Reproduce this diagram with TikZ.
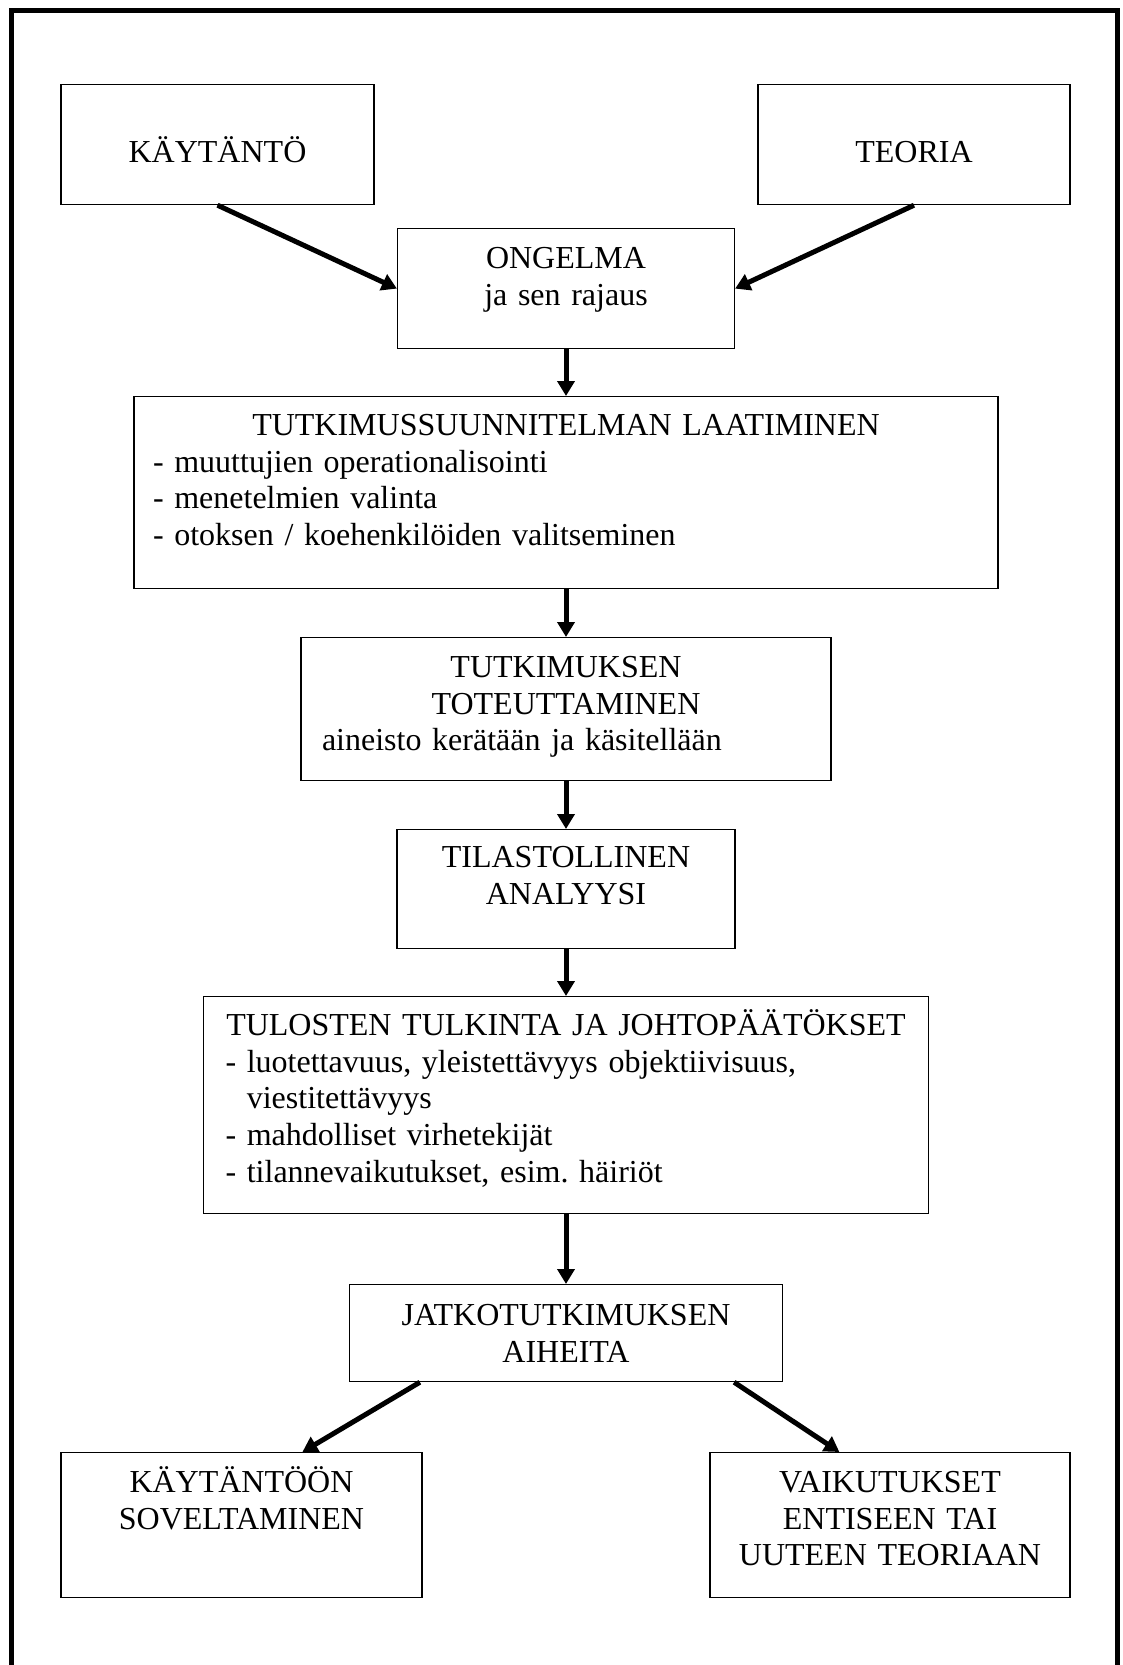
\documentclass[tikz,border=0pt]{standalone}
\usepackage{fontspec}
\setmainfont{Liberation Serif}
\usetikzlibrary{arrows.meta}
\frenchspacing

\tikzset{
  box/.style={draw, line width=0.6pt, anchor=north, inner xsep=10pt, inner ysep=0pt,
    font=\fontsize{16}{18.3}\selectfont},
  flow/.style={line width=2.5pt, -{Triangle[length=7.5pt,width=8.5pt]}},
}

\begin{document}
\begin{tikzpicture}[x=0.5pt, y=-0.5pt]
      \useasboundingbox (0,0) rectangle (1123,1665);
      \draw[line width=2.5pt] (11,1665) -- (11,10) -- (1117,10) -- (1117,1665);
      \draw
        (217.5,84) node[box, align=center, text width=136.5pt, text height=39pt, text depth=21pt] (kaytanto){KÄYTÄNTÖ}
        (914,84) node[box, align=center, text width=136pt, text height=39pt, text depth=21pt] (teoria){TEORIA}
        (566,228) node[box, align=center, text width=148.5pt, text height=20pt, text depth=40pt] (ongelma){ONGELMA\\ja sen rajaus}
        (566,396) node[box, align=left, inner xsep=9.5pt, text width=413pt, text height=19.5pt, text depth=76.5pt] (suunnitelma){%
          \makebox[\hsize]{TUTKIMUSSUUNNITELMAN LAATIMINEN}\\
          - muuttujien operationalisointi\\
          - menetelmien valinta\\
          - otoksen / koehenkilöiden valitseminen}
        (566,637) node[box, align=left, inner xsep=10.5pt, text width=244pt, text height=20pt, text depth=51.5pt] (toteutus){%
          \makebox[\hsize]{TUTKIMUKSEN}\\
          \makebox[\hsize]{TOTEUTTAMINEN}\\
          aineisto kerätään ja käsitellään}
        (566,829) node[box, align=center, text width=149pt, text height=19pt, text depth=40.5pt] (analyysi){TILASTOLLINEN\\ANALYYSI}
        (566,996) node[box, align=left, inner xsep=11pt, text width=340.5pt, text height=19.5pt, text depth=89pt] (tulkinta){%
          \makebox[\hsize]{TULOSTEN TULKINTA JA JOHTOPÄÄTÖKSET}\\
          - luotettavuus, yleistettävyys objektiivisuus,\\
          \phantom{- }viestitettävyys\\
          - mahdolliset virhetekijät\\
          - tilannevaikutukset, esim. häiriöt}
        (566,1284) node[box, align=center, text width=196.5pt, text height=20.5pt, text depth=28pt] (jatko){JATKOTUTKIMUKSEN\\AIHEITA}
        (241.5,1452) node[box, align=center, text width=160.5pt, text height=20pt, text depth=52.5pt] (soveltaminen){KÄYTÄNTÖÖN\\SOVELTAMINEN}
        (890,1452) node[box, align=center, text width=160pt, text height=20pt, text depth=52.5pt] (vaikutukset){VAIKUTUKSET\\ENTISEEN TAI\\UUTEEN TEORIAAN};
      \begin{scope}[flow]
        \draw (kaytanto.south) to (ongelma.west);
        \draw (teoria.south) to (ongelma.east);
        \draw (ongelma) to (suunnitelma);
        \draw (suunnitelma) to (toteutus);
        \draw (toteutus) to (analyysi);
        \draw (analyysi) to (tulkinta);
        \draw (tulkinta) to (jatko);
        \draw ([xshift=35.5pt]jatko.south west) to ([xshift=121pt]soveltaminen.north west);
        \draw ([xshift=-24.5pt]jatko.south east) to ([xshift=65pt]vaikutukset.north west);
      \end{scope}
    \end{tikzpicture}
\end{document}
